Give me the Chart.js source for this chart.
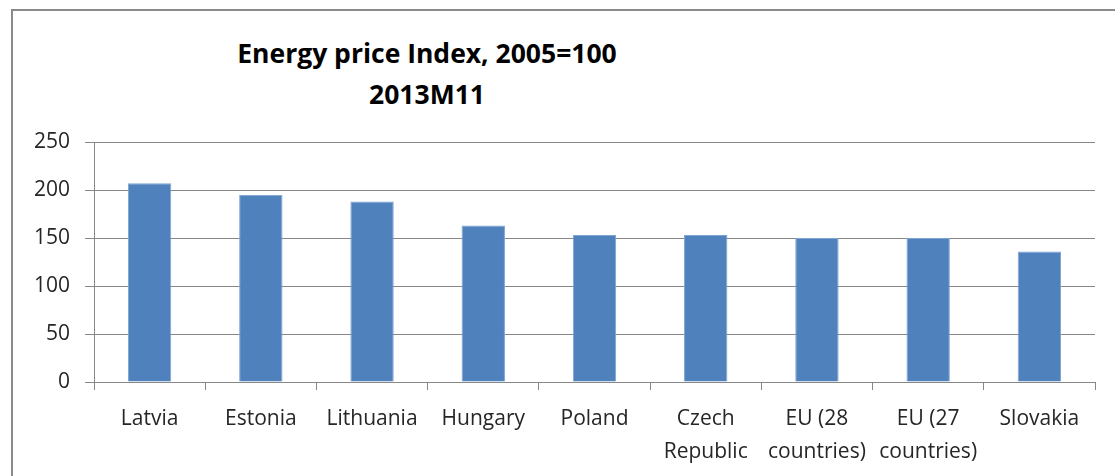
<!DOCTYPE html>
<html>
<head>
<meta charset="utf-8">
<script src="https://cdn.jsdelivr.net/npm/chart.js@4/dist/chart.umd.min.js"></script>
<style>
    html, body {
        margin: 0;
        padding: 0;
        background: #fff;
        width: 1115px;
        height: 476px;
        overflow: hidden;
    }
    .frame {
        position: absolute;
        left: 11px;
        top: 9px;
        width: 1200px;
        height: 600px;
        border: 2px solid #8a8a8a;
    }
    .title {
        position: absolute;
        left: 177px;
        width: 500px;
        text-align: center;
        font-family: "Open Sans", sans-serif;
        font-weight: bold;
        font-size: 26.5px;
        color: #000;
        line-height: 41px;
        top: 33px;
    }
    .chart-box {
        position: absolute;
        left: 0;
        top: 0;
        width: 1115px;
        height: 476px;
    }
</style>
</head>
<body>
<div class="frame"></div>
<div class="title">Energy price Index, 2005=100<br>2013M11</div>
<div class="chart-box"><canvas id="chart" width="1115" height="476"></canvas></div>

<script>
    // values
    const categories = ['Latvia', 'Estonia', 'Lithuania', 'Hungary', 'Poland',
        ['Czech', 'Republic'], ['EU (28', 'countries)'], ['EU (27', 'countries)'], 'Slovakia'];
    const priceIndex = [207, 195, 188, 163, 153, 153, 150, 150, 136];
    const yTicks = [0, 50, 100, 150, 200, 250];

    const gridColor = '#878787';
    const labelFont = {family: '"Open Sans", sans-serif', size: 21, lineHeight: 1.55};

    new Chart(document.getElementById('chart'), {
        type: 'bar',
        data: {
            labels: categories,
            datasets: [{
                data: priceIndex,
                backgroundColor: '#4f81bd',
                borderColor: '#7ea3cf',
                borderWidth: 1,
                categoryPercentage: 1,
                barPercentage: 0.39
            }]
        },
        options: {
            responsive: false,
            animation: false,
            layout: {
                padding: {left: 0, top: 142, right: 20, bottom: 0}
            },
            plugins: {
                legend: {display: false},
                title: {display: false},
                tooltip: {enabled: false}
            },
            scales: {
                x: {
                    grid: {
                        drawOnChartArea: false,
                        drawTicks: true,
                        tickLength: 8,
                        color: gridColor
                    },
                    border: {color: gridColor, width: 1},
                    ticks: {
                        color: '#262626',
                        font: labelFont,
                        padding: 13,
                        maxRotation: 0,
                        autoSkip: false
                    },
                    afterFit: scale => { scale.height = 94; }
                },
                y: {
                    min: 0,
                    max: 250,
                    afterBuildTicks: scale => {
                        scale.ticks = yTicks.map(v => ({value: v}));
                    },
                    grid: {
                        color: gridColor,
                        tickLength: 9
                    },
                    border: {color: gridColor, width: 1},
                    ticks: {
                        color: '#262626',
                        font: {family: '"Open Sans", sans-serif', size: 21},
                        padding: 15
                    },
                    afterFit: scale => { scale.width = 94; }
                }
            }
        }
    });
</script>
</body>
</html>
